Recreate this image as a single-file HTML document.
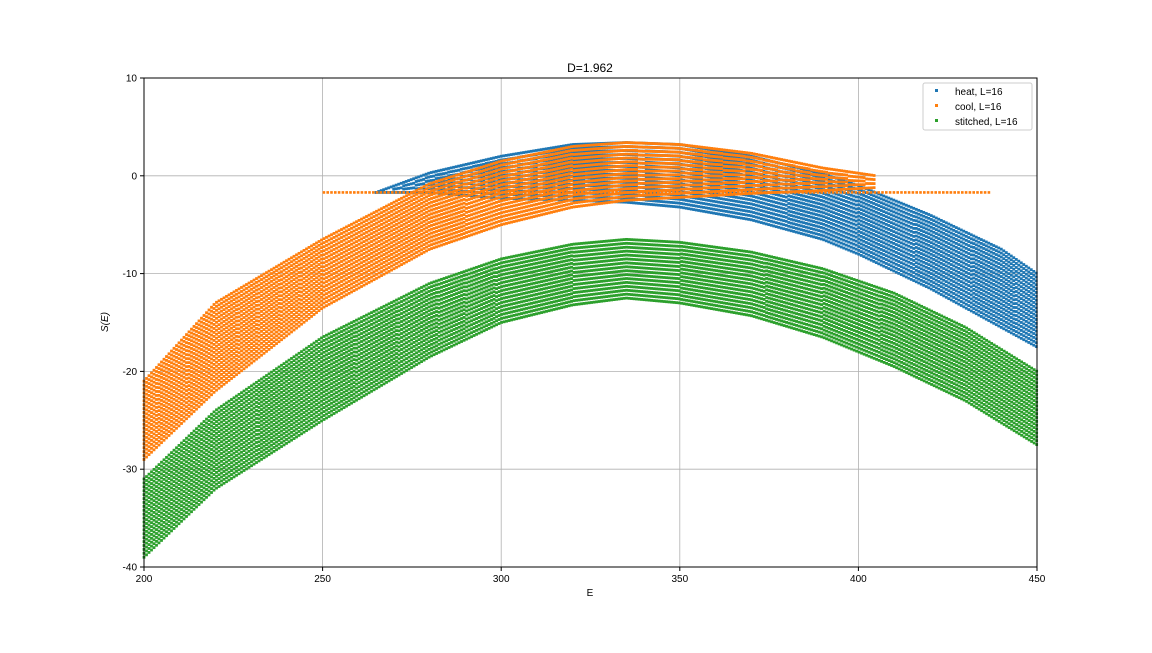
<!DOCTYPE html>
<html><head><meta charset="utf-8">
<style>
body{margin:0;background:#fff;font-family:"Liberation Sans",sans-serif;}
svg text{font-family:"Liberation Sans",sans-serif;fill:#000;}
</style></head>
<body>
<svg id="chart" width="1152" height="648" xmlns="http://www.w3.org/2000/svg">
<rect width="1152" height="648" fill="#fff"/>
<g id="grid"></g>
<g id="marks"></g>
<rect x="144" y="78" width="893" height="489" fill="none" stroke="#000" stroke-width="1"/>
<g id="axes"></g>
<text x="590" y="72" font-size="12" text-anchor="middle">D=1.962</text>
<text x="590" y="596" font-size="10" text-anchor="middle">E</text>
<text transform="translate(108,322) rotate(-90)" font-size="10" text-anchor="middle" font-style="italic">S(E)</text>
<g>
<rect x="923" y="83" width="109" height="47" fill="#fff" stroke="#ccc" rx="2"/>
<g><rect x="935" y="89" width="3" height="3" fill="#1f77b4"/><text x="955" y="95" font-size="10">heat, L=16</text></g>
<g><rect x="935" y="104" width="3" height="3" fill="#ff7f0e"/><text x="955" y="110" font-size="10">cool, L=16</text></g>
<g><rect x="935" y="119" width="3" height="3" fill="#2ca02c"/><text x="955" y="125" font-size="10">stitched, L=16</text></g>
</g>
</svg>
<script>
const xTicks=[200,250,300,350,400,450];
const yTicks=[-40,-30,-20,-10,0,10];
// envelope samples (E, upper S, lower S) per series
const heatE=[265,280,300,320,335,350,370,390,400,420,440,450];
const heatHi=[-1.7,0.3,2.0,3.2,3.4,3.2,2.0,0.2,-1.0,-4.0,-7.5,-10.0];
const heatLo=[-1.7,-1.7,-2.3,-2.5,-2.7,-3.2,-4.5,-6.5,-8.0,-11.5,-15.5,-17.5];
const coolE=[200,220,250,280,300,320,335,350,370,390,405];
const coolHi=[-21,-13,-6.5,-0.8,1.5,3.0,3.4,3.2,2.3,0.8,0.0];
const coolLo=[-29,-22,-13.5,-7.5,-5.0,-3.2,-2.5,-2.2,-1.8,-1.5,-1.2];
const coolLineE=[250,437];
const coolLineS=-1.7;
const stE=[200,220,250,280,300,320,335,350,370,390,410,430,450];
const stHi=[-31,-24,-16.5,-11,-8.5,-7.0,-6.5,-6.8,-7.8,-9.5,-12.0,-15.5,-20.0];
const stLo=[-39,-32,-25,-18.5,-15.0,-13.2,-12.5,-13.0,-14.3,-16.5,-19.5,-23.0,-27.5];

const X=e=>144+(e-200)*893/250, Y=s=>567-(s+40)*489/50;
const NS="http://www.w3.org/2000/svg";
const grid=document.getElementById('grid'),axes=document.getElementById('axes'),marks=document.getElementById('marks');
function mk(t,a,p){const el=document.createElementNS(NS,t);for(const k in a)el.setAttribute(k,a[k]);p.appendChild(el);return el;}
xTicks.forEach(v=>{
  const l=mk('line',{x1:X(v),x2:X(v),y1:78,y2:567,stroke:'#b0b0b0','stroke-width':0.8},grid);
  
  
  mk('line',{x1:X(v),x2:X(v),y1:567,y2:571,stroke:'#000'},axes);
  const t=mk('text',{x:X(v),y:582,'font-size':10,'text-anchor':'middle'},axes);t.textContent=v;
  
  
});
yTicks.forEach(v=>{
  const l=mk('line',{x1:144,x2:1037,y1:Y(v),y2:Y(v),stroke:'#b0b0b0','stroke-width':0.8},grid);
  
  
  mk('line',{x1:140,x2:144,y1:Y(v),y2:Y(v),stroke:'#000'},axes);
  const t=mk('text',{x:137,y:Y(v)+3.5,'font-size':10,'text-anchor':'end'},axes);t.textContent=v;
  
  
});
function interp(E,arr,e){for(let i=0;i<E.length-1;i++){if(e>=E[i]&&e<=E[i+1]){const f=(e-E[i])/(E[i+1]-E[i]);return arr[i]+f*(arr[i+1]-arr[i]);}}return null;}
function band(E,hi,lo,color,name){
  const g=mk('g',{fill:color},marks);
  
  
  for(let e=E[0];e<=E[E.length-1];e+=0.7){
    const h=interp(E,hi,e),l=interp(E,lo,e);if(h===null)continue;
    const n=Math.max(1,Math.round((h-l)/0.4));
    for(let k=0;k<=n;k++){const s=h-(h-l)*k/n;
      mk('rect',{x:X(e)-1.4,y:Y(s)-1.4,width:2.8,height:2.8},g);}
  }
}
band(heatE,heatHi,heatLo,'#1f77b4','heat-series');
band(coolE,coolHi,coolLo,'#ff7f0e','cool-series');
const cl=mk('line',{x1:X(coolLineE[0]),x2:X(coolLineE[1]),y1:Y(coolLineS),y2:Y(coolLineS),stroke:'#ff7f0e','stroke-width':2.6,'stroke-dasharray':'2.6 1.2'},marks);


band(stE,stHi,stLo,'#2ca02c','stitched-series');
</script>
</body></html>
